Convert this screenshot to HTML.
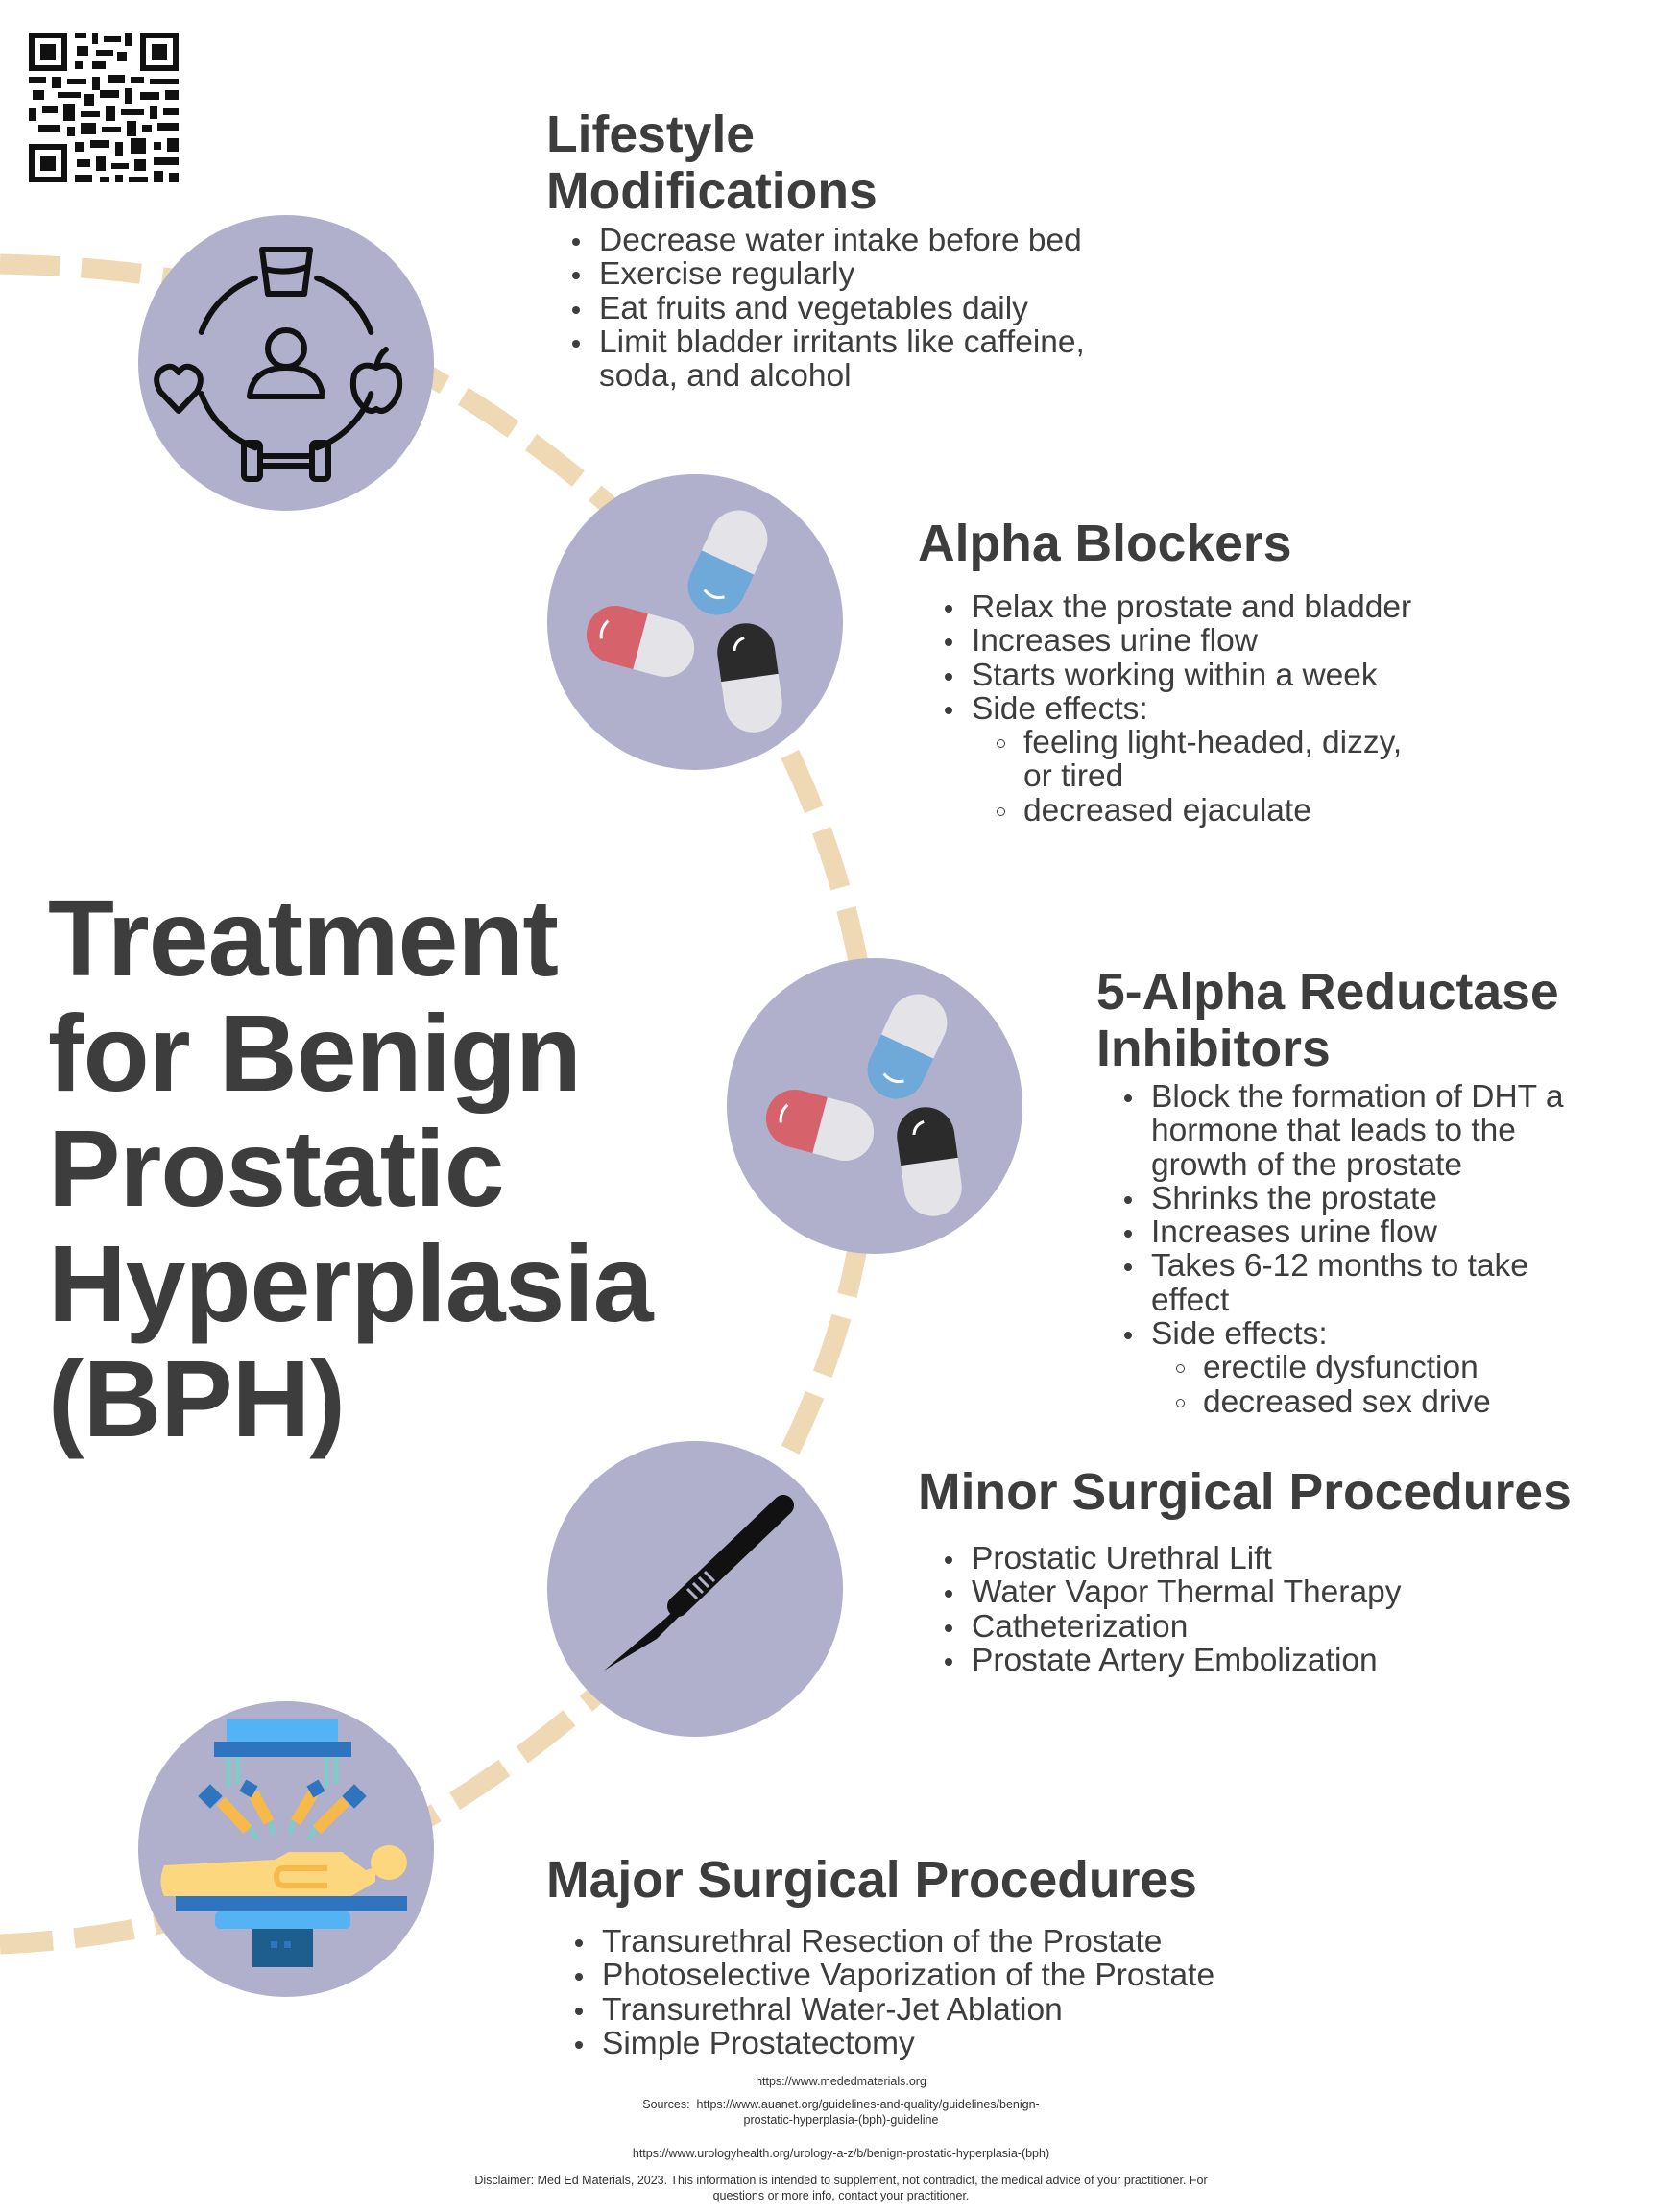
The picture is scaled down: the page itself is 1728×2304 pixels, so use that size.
<!DOCTYPE html>
<html><head><meta charset="utf-8"><style>
html,body{margin:0;padding:0;background:#fff}
body{width:1728px;height:2304px;position:relative;overflow:hidden;font-family:"Liberation Sans",sans-serif;color:#3d3d3d}
.h{position:absolute;font-weight:bold;font-size:53.5px;line-height:59px;white-space:nowrap}
ul{position:absolute;margin:0;padding:0;list-style:none;font-size:33.5px;line-height:35.3px}
li{position:relative;padding-left:24px;white-space:nowrap}
li:before{content:"";position:absolute;left:-4px;top:15px;width:8px;height:8px;border-radius:50%;background:#3d3d3d}
li.s{padding-left:78px}
li.s:before{left:50px;top:14px;width:7px;height:7px;background:none;border:1.5px solid #3d3d3d}
.t{position:absolute;left:50px;top:917px;font-weight:bold;font-size:113px;line-height:120px;white-space:nowrap;letter-spacing:-1px}
.f{position:absolute;left:0;width:1752px;text-align:center;font-size:12.5px;line-height:16px;color:#333}
</style></head><body>
<svg width="1728" height="2304" style="position:absolute;left:0;top:0">
<defs>
<g id="pills">
 <g transform="translate(34,-62) rotate(25)">
  <path d="M-30,0 V-27 A30,30 0 0 1 30,-27 V0 Z" fill="#e4e4e8"/>
  <path d="M-30,0 V27 A30,30 0 0 0 30,27 V0 Z" fill="#6fa9da"/>
  <path d="M-10,36 Q2,42 12,34" stroke="#fff" stroke-width="3" fill="none"/>
 </g>
 <g transform="translate(-57,20) rotate(105)">
  <path d="M-30,0 V-27 A30,30 0 0 1 30,-27 V0 Z" fill="#e4e4e8"/>
  <path d="M-30,0 V27 A30,30 0 0 0 30,27 V0 Z" fill="#d6636c"/>
  <path d="M-12,38 Q-2,44 8,40" stroke="#fff" stroke-width="3" fill="none"/>
 </g>
 <g transform="translate(57,58) rotate(-8)">
  <path d="M-30,0 V-27 A30,30 0 0 1 30,-27 V0 Z" fill="#2b2b2b"/>
  <path d="M-30,0 V27 A30,30 0 0 0 30,27 V0 Z" fill="#e4e4e8"/>
  <path d="M-12,-30 Q-10,-40 0,-42" stroke="#fff" stroke-width="3" fill="none"/>
 </g>
</g>
</defs>
<path transform="scale(0.986,1)" d="M0,275 C120,278 230,290 330,330 C480,395 600,480 690,570 C800,690 880,850 910,1020 C930,1140 920,1280 880,1400 C840,1520 780,1620 700,1700 C600,1800 480,1890 330,1955 C230,1995 120,2020 0,2025" fill="none" stroke="#efd8b4" stroke-width="21" stroke-dasharray="63 23"/>
<g fill="#b0b0cd">
 <circle cx="298" cy="378" r="154"/>
 <circle cx="724" cy="648" r="154"/>
 <circle cx="911" cy="1152" r="154"/>
 <circle cx="724" cy="1655" r="154"/>
 <circle cx="298" cy="1926" r="154"/>
</g>
<!-- lifestyle icon -->
<g transform="translate(298,378)" fill="none" stroke="#111" stroke-width="6" stroke-linecap="round" stroke-linejoin="round">
 <path d="M32.1,-88.3 A94,94 0 0 1 88.3,-32.1 M88.3,32.1 A94,94 0 0 1 32.1,88.3 M-32.1,88.3 A94,94 0 0 1 -88.3,32.1 M-88.3,-32.1 A94,94 0 0 1 -32.1,-88.3"/>
 <path d="M-25,-118 H25 L19,-72 H-19 Z"/><path d="M-22,-98 Q0,-92 22,-100"/>
 <circle cx="0" cy="-15" r="19"/><path d="M-38,35 Q-35,5 0,5 Q35,5 38,35 Z"/>
 <path d="M-112,50 L-131,30 Q-140,14 -128,6 Q-118,0 -112,10 Q-106,0 -96,6 Q-84,14 -93,30 Z"/>
 <path d="M94,5 Q110,-2 117,12 Q122,35 105,48 Q99,52 94,48 Q89,52 83,48 Q66,35 71,12 Q78,-2 94,5 Z"/><path d="M94,5 Q96,-8 104,-14"/>
 <rect x="-44" y="83" width="17" height="38" rx="4"/><rect x="27" y="83" width="17" height="38" rx="4"/><path d="M-27,97 H27 M-27,107 H27"/>
</g>
<use href="#pills" transform="translate(724,648)"/>
<use href="#pills" transform="translate(911,1152)"/>
<!-- scalpel -->
<g transform="translate(724,1655)">
 <line x1="92" y1="-87" x2="-18" y2="18" stroke="#111" stroke-width="22" stroke-linecap="round"/>
 <path d="M-12,12 L-30,30 L-95,85 L-40,52 L-16,28 Z" fill="#111"/>
 <g stroke="#b0b0cd" stroke-width="3"><line x1="-8" y1="0" x2="2" y2="10"/><line x1="-2" y1="-6" x2="8" y2="4"/><line x1="4" y1="-12" x2="14" y2="-2"/><line x1="10" y1="-18" x2="20" y2="-8"/></g>
</g>
<!-- surgery -->
<g transform="translate(-4,0)">
 <rect x="240" y="1791" width="116" height="24" fill="#54b3f5"/>
 <rect x="227" y="1814" width="143" height="16" fill="#2f74bf"/>
 <g stroke="#7ecbc9" stroke-width="5"><line x1="242" y1="1830" x2="242" y2="1862"/><line x1="252" y1="1830" x2="252" y2="1858"/><line x1="344" y1="1830" x2="344" y2="1862"/><line x1="354" y1="1830" x2="354" y2="1858"/>
 <line x1="262" y1="1900" x2="272" y2="1916"/><line x1="284" y1="1896" x2="290" y2="1910"/><line x1="310" y1="1896" x2="306" y2="1910"/><line x1="334" y1="1900" x2="326" y2="1916"/></g>
 <g stroke="#f6b94a" stroke-width="12"><line x1="234" y1="1876" x2="262" y2="1906"/><line x1="268" y1="1868" x2="284" y2="1898"/><line x1="330" y1="1868" x2="312" y2="1898"/><line x1="364" y1="1876" x2="334" y2="1906"/></g>
 <g fill="#2f74bf"><rect x="214" y="1862" width="18" height="18" transform="rotate(45 223 1871)"/><rect x="256" y="1856" width="14" height="14" transform="rotate(30 263 1863)"/><rect x="326" y="1856" width="14" height="14" transform="rotate(-30 333 1863)"/><rect x="364" y="1862" width="18" height="18" transform="rotate(45 373 1871)"/></g>
 <path d="M175,1943 L290,1937 L305,1929 L360,1929 L385,1948 L395,1945 L395,1960 L370,1975 L175,1975 Q168,1960 175,1943 Z" fill="#fcd77e"/>
 <ellipse cx="409" cy="1940" rx="19" ry="18" fill="#fcd77e"/>
 <path d="M345,1946 H300 Q292,1946 292,1955 Q292,1964 300,1964 H345" stroke="#f6b94a" stroke-width="6" fill="none"/>
 <rect x="187" y="1975" width="241" height="16" fill="#2f74bf"/>
 <rect x="228" y="1991" width="141" height="18" rx="5" fill="#54b3f5"/>
 <rect x="267" y="2009" width="63" height="40" fill="#1d5e8e"/>
 <rect x="286" y="2022" width="7" height="7" fill="#2f74bf"/><rect x="300" y="2022" width="7" height="7" fill="#2f74bf"/>
</g>
<!-- QR -->
<g fill="#111">
 <rect x="30" y="34" width="40" height="40"/><rect x="36" y="40" width="28" height="28" fill="#fff"/><rect x="42" y="46" width="16" height="16"/>
 <rect x="146" y="34" width="40" height="40"/><rect x="152" y="40" width="28" height="28" fill="#fff"/><rect x="158" y="46" width="16" height="16"/>
 <rect x="30" y="150" width="40" height="40"/><rect x="36" y="156" width="28" height="28" fill="#fff"/><rect x="42" y="162" width="16" height="16"/>
 <path d="M78,34h12v6h-12zM96,34h6v12h-6zM108,38h18v6h-18zM130,34h8v14h-8zM80,48h12v10h-12zM100,52h18v6h-18zM122,54h10v10h-10zM78,64h8v8h-8zM96,64h14v8h-14zM30,80h18v6h-18zM54,80h10v12h-10zM70,82h20v6h-20zM96,80h8v14h-8zM112,78h18v8h-18zM136,80h14v6h-14zM156,82h30v6h-30zM34,94h12v10h-12zM60,96h24v6h-24zM88,98h10v12h-10zM104,94h20v8h-20zM130,92h8v16h-8zM146,96h20v8h-20zM172,94h14v10h-14zM30,112h8v14h-8zM44,110h16v8h-16zM66,108h12v18h-12zM84,116h20v6h-20zM110,110h10v16h-10zM126,114h24v6h-24zM156,110h8v14h-8zM170,112h16v8h-16zM40,130h22v8h-22zM70,132h8v10h-8zM84,128h16v12h-16zM106,132h20v6h-20zM132,126h10v16h-10zM148,130h10v8h-10zM164,128h22v8h-22zM78,148h10v10h-10zM94,146h20v8h-20zM120,148h8v14h-8zM136,144h16v16h-16zM160,148h8v8h-8zM174,144h12v14h-12zM80,166h14v8h-14zM100,162h10v16h-10zM116,170h18v6h-18zM140,166h12v12h-12zM160,164h26v8h-26zM78,182h18v8h-18zM104,184h10v6h-10zM120,182h8v8h-8zM134,184h20v6h-20zM160,178h10v12h-10zM176,180h10v10h-10z"/>
</g>
</svg>

<div class="h" style="left:569px;top:111px">Lifestyle<br>Modifications</div>
<ul style="left:600px;top:233px">
<li>Decrease water intake before bed</li><li>Exercise regularly</li><li>Eat fruits and vegetables daily</li><li>Limit bladder irritants like caffeine,<br>soda, and alcohol</li></ul>

<div class="h" style="left:956px;top:537px">Alpha Blockers</div>
<ul style="left:988px;top:615px">
<li>Relax the prostate and bladder</li><li>Increases urine flow</li><li>Starts working within a week</li><li>Side effects:</li>
<li class="s">feeling light-headed, dizzy,<br>or tired</li><li class="s">decreased ejaculate</li></ul>

<div class="h" style="left:1142px;top:1004px">5-Alpha Reductase<br>Inhibitors</div>
<ul style="left:1175px;top:1125px">
<li>Block the formation of DHT a<br>hormone that leads to the<br>growth of the prostate</li><li>Shrinks the prostate</li><li>Increases urine flow</li><li>Takes 6-12 months to take<br>effect</li><li>Side effects:</li>
<li class="s">erectile dysfunction</li><li class="s">decreased sex drive</li></ul>

<div class="h" style="left:956px;top:1525px">Minor Surgical Procedures</div>
<ul style="left:988px;top:1606px">
<li>Prostatic Urethral Lift</li><li>Water Vapor Thermal Therapy</li><li>Catheterization</li><li>Prostate Artery Embolization</li></ul>

<div class="h" style="left:569px;top:1929px">Major Surgical Procedures</div>
<ul style="left:603px;top:2005px">
<li>Transurethral Resection of the Prostate</li><li>Photoselective Vaporization of the Prostate</li><li>Transurethral Water-Jet Ablation</li><li>Simple Prostatectomy</li></ul>

<div class="t">Treatment<br>for Benign<br>Prostatic<br>Hyperplasia<br>(BPH)</div>

<div class="f" style="top:2160px">https://www.mededmaterials.org</div>
<div class="f" style="top:2184px">Sources:&nbsp; https://www.auanet.org/guidelines-and-quality/guidelines/benign-<br>prostatic-hyperplasia-(bph)-guideline</div>
<div class="f" style="top:2235px">https://www.urologyhealth.org/urology-a-z/b/benign-prostatic-hyperplasia-(bph)</div>
<div class="f" style="top:2263px">Disclaimer: Med Ed Materials, 2023. This information is intended to supplement, not contradict, the medical advice of your practitioner. For<br>questions or more info, contact your practitioner.</div>
</body></html>
